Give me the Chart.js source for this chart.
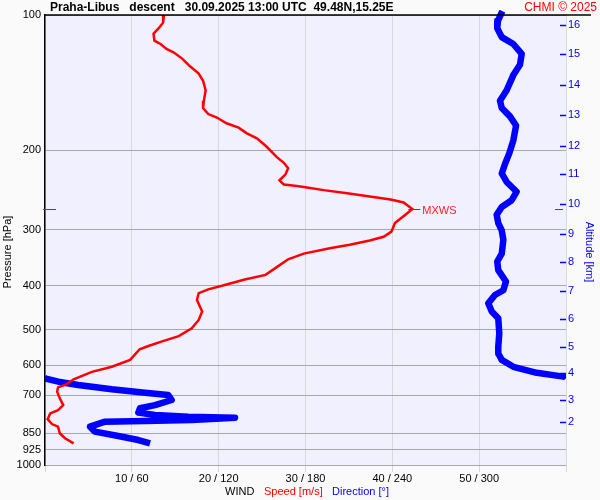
<!DOCTYPE html>
<html>
<head>
<meta charset="utf-8">
<script src="https://cdn.jsdelivr.net/npm/chart.js@4"></script>
<style>
  html, body { margin: 0; padding: 0; background: #fafafa; }
  canvas { display: block; }
</style>
</head>
<body>
<canvas id="sonda" width="600" height="500"></canvas>
<script>
// Praha-Libus descent 30.09.2025 13:00 UTC - wind speed / direction vs pressure

// pressure axis (hPa) and altitude axis (km at its pressure level)
const pressureTicks = [100, 200, 300, 400, 500, 600, 700, 850, 925, 1000];
const altitudeKm = [2, 3, 4, 5, 6, 7, 8, 9, 10, 11, 12, 13, 14, 15, 16];
const altitudePressure = [801, 717, 625, 546, 474, 411, 354, 306, 263, 226, 195, 167, 143, 122, 105];

// bottom axis: speed [m/s] / direction [deg]
const speedTicks = [0, 10, 20, 30, 40, 50, 60];
const windTickLabels = ["", "10 / 60", "20 / 120", "30 / 180", "40 / 240", "50 / 300", ""];

// wind speed profile
const speedP = [100, 104, 107, 110, 114, 116, 119, 121, 125, 130, 135, 140, 147, 155, 161, 166, 169, 174, 178, 183,
  188, 196, 207, 213, 219, 226, 233, 238, 240, 241, 245, 249, 253, 257, 261, 270, 278, 290, 303, 311,
  317, 324, 330, 339, 349, 361, 378, 387, 398, 407, 415, 430, 456, 476, 497, 517, 532, 544, 553, 584,
  605, 621, 645, 661, 672, 687, 711, 736, 755, 768, 791, 811, 822, 850, 872, 895];
const speed = [13.7, 13.6, 13.1, 12.5, 12.6, 13.3, 14.0, 14.8, 15.8, 16.7, 17.7, 18.2, 18.5, 18.3, 18.2, 18.8, 19.8, 20.9, 22.3, 23.2,
  24.4, 25.5, 26.7, 27.5, 28.0, 27.7, 27.0, 27.5, 29.0, 29.8, 32.1, 34.8, 37.4, 39.8, 41.3, 42.3, 41.5, 40.3, 39.9, 39.0,
  37.4, 35.1, 32.8, 29.8, 28.0, 26.9, 25.4, 23.0, 20.7, 18.8, 17.7, 17.5, 18.1, 17.7, 16.9, 15.4, 13.4, 11.9, 10.9, 9.8,
  7.7, 5.4, 3.3, 2.5, 1.5, 1.4, 1.7, 2.1, 1.5, 0.6, 0.3, 0.8, 1.5, 1.7, 2.3, 3.3];

// wind direction profile
const dirP = [98, 103, 107, 112, 116, 122, 129, 136, 147, 155, 161, 168, 176, 190, 203, 214, 225, 235, 247, 258,
  267, 278, 290, 301, 316, 339, 353, 369, 391, 409, 419, 437, 456, 472, 510, 546, 565, 584, 605, 624,
  637, 642, 653, 664, 679, 691, 699, 717, 736, 748, 765, 774, 781, 785, 794, 798, 801, 822, 843, 862,
  880, 895];
const direction = [316, 313, 312.5, 315.6, 323.6, 329.4, 328.2, 323.6, 319, 314.4, 315.6, 321.3, 325.5, 323.6, 320.8, 317.9, 315.6, 319, 325.9, 322.5,
  315.6, 312.1, 313.2, 315.6, 316.7, 315.6, 312.5, 313.2, 318.5, 316.7, 310.9, 306.3, 308.7, 313.2, 313.9, 313.2, 313.2, 315.6, 323.6, 339.8,
  359.3, 0, 9.2, 23, 46.1, 69.1, 85.2, 87.5, 76, 65.6, 64.5, 76, 99, 131.3, 101.4, 69.1, 41.5, 31.1, 34.5, 50.6,
  64.5, 72.6];

const FONT = "'Liberation Sans', Arial, sans-serif";
Chart.defaults.font.family = FONT;
Chart.defaults.font.size = 11;
Chart.defaults.color = "#000";

const speedPts = speedP.map((p, i) => ({ x: speed[i], y: p }));

// direction: break the line where it wraps through 360 -> 0
const dirPts = [];
direction.forEach((d, i) => {
  if (i > 0 && Math.abs(d - direction[i - 1]) > 180) {
    const shift = d < direction[i - 1] ? 360 : -360;
    dirPts.push({ x: d + shift, y: dirP[i] });
    dirPts.push({ x: null, y: null });
    dirPts.push({ x: direction[i - 1] - shift, y: dirP[i - 1] });
  }
  dirPts.push({ x: d, y: dirP[i] });
});

const iMax = speed.indexOf(Math.max(...speed));

const decor = {
  id: "decor",
  beforeDraw(chart) {
    const { ctx, chartArea: a } = chart;
    ctx.save();
    ctx.fillStyle = "#fafafa";
    ctx.fillRect(0, 0, chart.width, chart.height);
    ctx.fillStyle = "#f0f0ff";
    ctx.fillRect(a.left, a.top, a.right - a.left, a.bottom - a.top);
    ctx.restore();
  },
  afterDraw(chart) {
    const { ctx, chartArea: a, scales } = chart;
    ctx.save();

    // top frame line
    ctx.strokeStyle = "#000";
    ctx.lineWidth = 1.5;
    ctx.beginPath();
    ctx.moveTo(a.left, a.top);
    ctx.lineTo(591, a.top);
    ctx.stroke();

    // altitude tick marks (inside the frame)
    ctx.strokeStyle = "#0000ff";
    ctx.lineWidth = 1.5;
    scales.y2.ticks.forEach(t => {
      const py = Math.round(scales.y2.getPixelForValue(t.value)) + 0.5;
      ctx.beginPath();
      ctx.moveTo(a.right - 6, py);
      ctx.lineTo(a.right, py);
      ctx.stroke();
    });

    // max wind marker
    const mx = scales.xs.getPixelForValue(speed[iMax]);
    const my = Math.round(scales.y.getPixelForValue(speedP[iMax])) + 0.5;
    ctx.strokeStyle = "#ff0000";
    ctx.lineWidth = 1;
    ctx.beginPath();
    ctx.moveTo(mx - 4, my); ctx.lineTo(mx + 8, my);
    ctx.moveTo(a.left - 2, my); ctx.lineTo(a.left + 11, my);
    ctx.moveTo(a.right - 11, my); ctx.lineTo(a.right - 3, my);
    ctx.stroke();
    ctx.fillStyle = "#ff2020";
    ctx.font = "11px " + FONT;
    ctx.textBaseline = "middle";
    ctx.textAlign = "left";
    ctx.fillText("MXWS", mx + 10, my + 1);

    // title
    ctx.fillStyle = "#000";
    ctx.font = "bold 12px " + FONT;
    ctx.fillText("Praha-Libus   descent   30.09.2025 13:00 UTC  49.48N,15.25E", 50, 8);
    ctx.fillStyle = "#ff0000";
    ctx.font = "12px " + FONT;
    ctx.textAlign = "right";
    ctx.fillText("CHMI \u00a9 2025", 597, 8);

    // bottom legend
    ctx.textAlign = "left";
    ctx.font = "11px " + FONT;
    ctx.fillStyle = "#000";
    ctx.fillText("WIND", 225, 492);
    ctx.fillStyle = "#ff0000";
    ctx.fillText("Speed [m/s]", 264, 492);
    ctx.fillStyle = "#0000ff";
    ctx.fillText("Direction [\u00b0]", 332, 492);

    // axis titles
    ctx.textAlign = "center";
    ctx.save();
    ctx.translate(8, 252);
    ctx.rotate(-Math.PI / 2);
    ctx.fillStyle = "#000";
    ctx.fillText("Pressure [hPa]", 0, 0);
    ctx.restore();
    ctx.save();
    ctx.translate(589, 252);
    ctx.rotate(Math.PI / 2);
    ctx.fillStyle = "#0000ff";
    ctx.fillText("Altitude [km]", 0, 0);
    ctx.restore();

    ctx.restore();
  }
};

new Chart(document.getElementById("sonda").getContext("2d"), {
  type: "scatter",
  data: {
    datasets: [
      {
        label: "Speed",
        data: speedPts,
        xAxisID: "xs",
        yAxisID: "y",
        showLine: true,
        borderColor: "#ff0000",
        borderWidth: 2.5,
        pointRadius: 0,
        tension: 0,
        order: 0
      },
      {
        label: "Direction",
        data: dirPts,
        xAxisID: "x",
        yAxisID: "y",
        showLine: true,
        spanGaps: false,
        borderColor: "#0000ff",
        borderWidth: 6.5,
        borderJoinStyle: "round",
        pointRadius: 0,
        tension: 0,
        order: 1,
        clip: { left: 0, right: 0, top: 5, bottom: 0 }
      }
    ]
  },
  options: {
    responsive: false,
    animation: false,
    layout: { padding: { top: 15, left: 0, right: 0, bottom: 0 } },
    plugins: { legend: { display: false }, tooltip: { enabled: false } },
    scales: {
      x: {
        type: "linear",
        position: "bottom",
        min: 0,
        max: 360,
        afterBuildTicks: axis => { axis.ticks = speedTicks.map(v => ({ value: v * 6 })); },
        afterFit: axis => { axis.height = 35; },
        grid: { color: "#d8d8d8", lineWidth: 1, tickLength: 7 },
        border: { display: false },
        ticks: {
          autoSkip: false,
          maxRotation: 0,
          padding: 0,
          font: { size: 11 },
          callback: (v, i) => windTickLabels[i]
        }
      },
      xs: {
        type: "linear",
        display: false,
        min: 0,
        max: 60
      },
      y: {
        type: "logarithmic",
        position: "left",
        reverse: true,
        min: 100,
        max: 1000,
        afterBuildTicks: axis => { axis.ticks = pressureTicks.map(v => ({ value: v })); },
        afterFit: axis => { axis.width = 45; },
        grid: { color: "#a8a8a8", lineWidth: 1, drawTicks: false },
        border: { display: true, color: "#000", width: 1.5 },
        ticks: {
          autoSkip: false,
          padding: 4,
          font: { size: 11 },
          callback: v => String(v)
        }
      },
      y2: {
        type: "logarithmic",
        position: "right",
        reverse: true,
        min: 100,
        max: 1000,
        afterBuildTicks: axis => { axis.ticks = altitudePressure.map(v => ({ value: v })); },
        afterFit: axis => { axis.width = 34; },
        grid: { drawOnChartArea: false, drawTicks: false },
        border: { display: false },
        ticks: {
          autoSkip: false,
          padding: 2,
          color: "#0000ff",
          font: { size: 11 },
          callback: v => String(altitudeKm[altitudePressure.indexOf(v)])
        }
      }
    }
  },
  plugins: [decor]
});
</script>
</body>
</html>
